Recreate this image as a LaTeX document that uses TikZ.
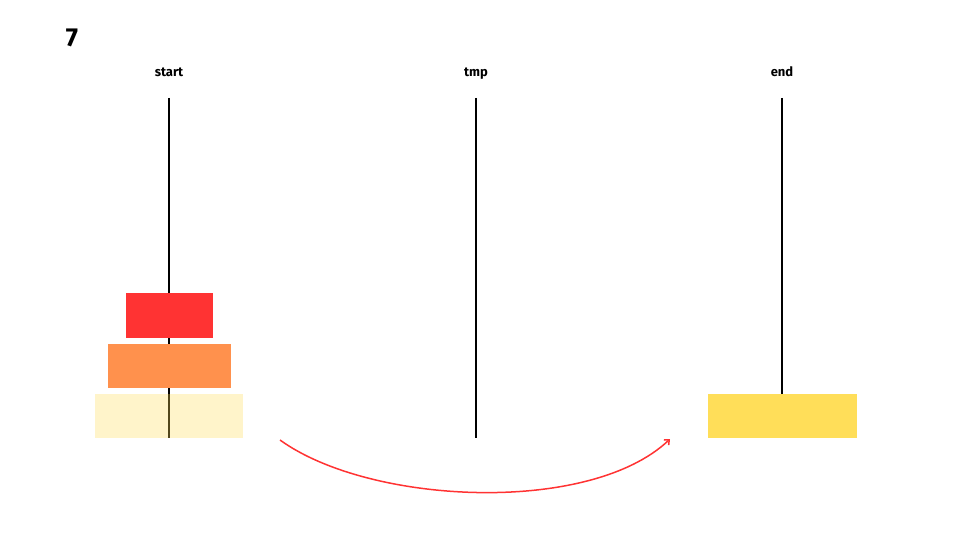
\documentclass[tikz,border=0pt]{standalone}
\usepackage{fontspec}
\setmainfont{Fira Sans}
\usetikzlibrary{arrows.meta}
\definecolor{diskred}{HTML}{FF3333}
\definecolor{diskorange}{HTML}{FF914D}
\definecolor{diskyellow}{HTML}{FFDE59}
\begin{document}
\begin{tikzpicture}[x=1pt,y=-1pt,
  pole/.style={line width=2pt,black},
  disk/.style={draw=none,inner sep=0pt,anchor=north west},
  lbl/.style={font=\bfseries\fontsize{13}{15}\selectfont,inner sep=0pt,anchor=base}]
\useasboundingbox (0,0) rectangle (960,540);
\node[font=\bfseries\fontsize{26}{28}\selectfont,inner sep=0pt] (num) at (72,38) {7};
\node[lbl] (lstart) at (169,77) {start};
\node[lbl] (ltmp) at (476,77) {tmp};
\node[lbl] (lend) at (782,77) {end};
\coordinate (s1) at (169,98); \coordinate (s2) at (169,438);
\coordinate (t1) at (476,98); \coordinate (t2) at (476,438);
\coordinate (e1) at (782,98); \coordinate (e2) at (782,438);
\draw[pole] (s1) -- (s2);
\draw[pole] (t1) -- (t2);
\draw[pole] (e1) -- (e2);
\node[disk,fill=diskred,minimum width=87pt,minimum height=45pt] (d1) at (126,293) {};
\node[disk,fill=diskorange,minimum width=123pt,minimum height=44pt] (d2) at (108,344) {};
\node[disk,fill=diskyellow,fill opacity=0.32,minimum width=148pt,minimum height=44pt] (d3) at (95,394) {};
\node[disk,fill=diskyellow,minimum width=149pt,minimum height=44pt] (d4) at (708,394) {};
\coordinate (a1) at (280,440);
\coordinate (a2) at (670,439);
\draw[diskred,line width=1.5pt,-{Straight Barb[length=4pt,width=7pt]}] (a1) .. controls (370,505) and (590,515) .. (a2);
\end{tikzpicture}
\end{document}
